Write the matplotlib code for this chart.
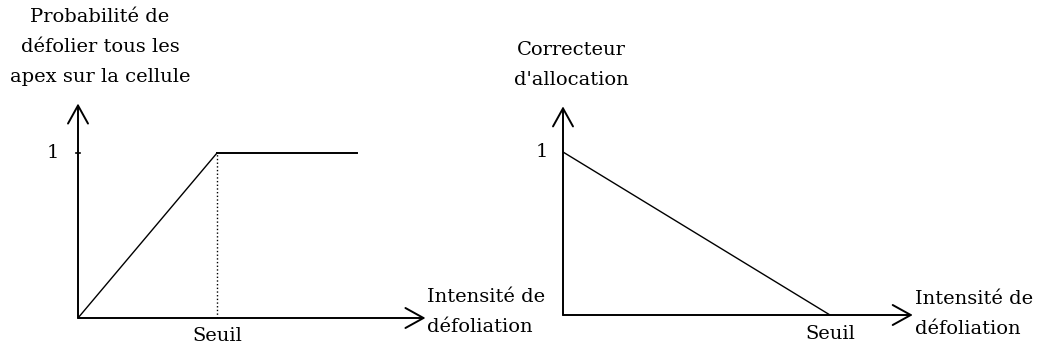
"""Schema : probabilite de defoliation et correcteur d'allocation vs intensite."""

import matplotlib

matplotlib.use("Agg")
import matplotlib.pyplot as plt

plt.rcParams["font.family"] = ["DejaVu Serif"]
plt.rcParams["font.size"] = 14

# --- donnees ---
# gauche : probabilite de defolier tous les apex (seuil = 1)
prob_x = [0, 1, 2.01]
prob_y = [0, 1, 1]
# droite : correcteur d'allocation
corr_x = [0, 1]
corr_y = [1, 0]
seuil = 1

left_ylabel = "Probabilité de\ndéfolier tous les\napex sur la cellule"
right_ylabel = "Correcteur\nd'allocation"
xlabel = "Intensité de\ndéfoliation"

W, H = 1040, 348
fig = plt.figure(figsize=(W / 100, H / 100), dpi=100)

arrow = dict(arrowstyle="->,head_length=1.3,head_width=0.72", mutation_scale=10,
             lw=1.4, color="black", shrinkA=0, shrinkB=0)
LS = 1.85


def make_axes(x0, y0, sx, sy, xmax, ymax):
    ax = fig.add_axes([x0 / W, (H - y0) / H, xmax * sx / W, ymax * sy / H])
    ax.set_xlim(0, xmax)
    ax.set_ylim(0, ymax)
    ax.axis("off")
    return ax


# --- panneau gauche ---
ax1 = make_axes(78, 318, 139, 165, 2.6, 1.35)
ax1.annotate("", xy=(2.5, 0), xytext=(0, 0), arrowprops=arrow, annotation_clip=False)
ax1.annotate("", xy=(0, 1.30), xytext=(0, 0), arrowprops=arrow, annotation_clip=False)
ax1.plot(prob_x[:2], prob_y[:2], color="black", lw=1)
ax1.plot(prob_x[1:], prob_y[1:], color="black", lw=1.4)
ax1.plot([seuil, seuil], [0, 1], color="black", lw=1, linestyle=":")
ax1.plot([-0.015, 0.015], [1, 1], color="black", lw=1.2, clip_on=False)
ax1.text(-0.18, 1, "1", ha="center", va="center")
ax1.text(seuil, -0.11, "Seuil", ha="center", va="center")
ax1.text(2.51, 0.036, xlabel, ha="left", va="center", linespacing=LS)
ax1.text(0.158, 1.642, left_ylabel, ha="center", va="center", linespacing=LS)

# --- panneau droit ---
ax2 = make_axes(563, 315, 267, 163, 1.4, 1.35)
ax2.annotate("", xy=(1.31, 0), xytext=(0, 0), arrowprops=arrow, annotation_clip=False)
ax2.annotate("", xy=(0, 1.28), xytext=(0, 0), arrowprops=arrow, annotation_clip=False)
ax2.plot(corr_x, corr_y, color="black", lw=1)
ax2.text(-0.079, 1, "1", ha="center", va="center")
ax2.text(seuil, -0.117, "Seuil", ha="center", va="center")
ax2.text(1.318, 0.006, xlabel, ha="left", va="center", linespacing=LS)
ax2.text(0.03, 1.534, right_ylabel, ha="center", va="center", linespacing=LS)

plt.savefig("out.png", dpi=100)
plt.close()
